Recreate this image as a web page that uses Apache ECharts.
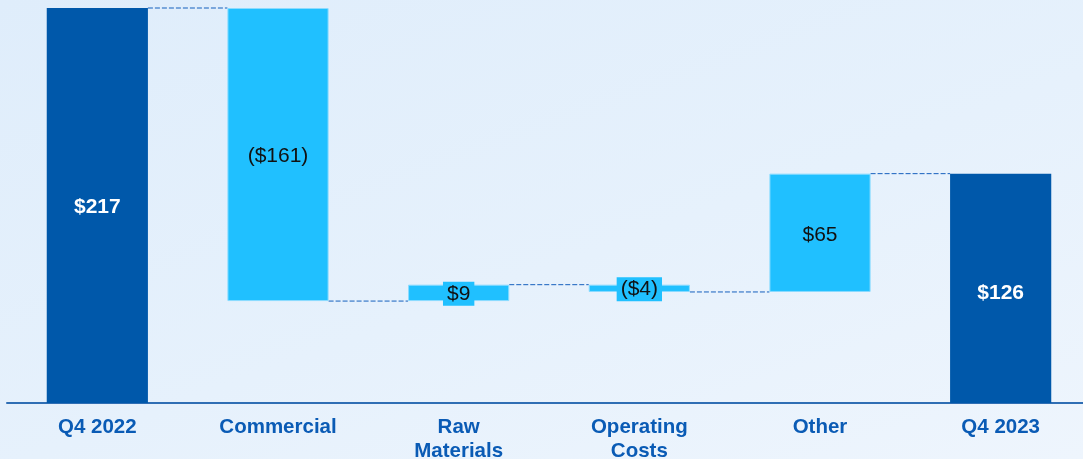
<!DOCTYPE html>
<html>
<head>
<meta charset="utf-8">
<script src="https://cdn.jsdelivr.net/npm/echarts@6/dist/echarts.min.js"></script>
<style>
  html, body { margin: 0; padding: 0; }
  body {
    width: 1083px; height: 459px; overflow: hidden;
    background: linear-gradient(160deg, #DFEDFB 0%, #E6F1FC 55%, #EEF5FD 100%);
  }
  #chart { width: 1083px; height: 459px; }
</style>
</head>
<body>
<div id="chart"></div>
<script>
// EBITDA bridge, Q4 2022 -> Q4 2023 ($ millions)
const categories = ['Q4 2022', 'Commercial', 'Raw\nMaterials', 'Operating\nCosts', 'Other', 'Q4 2023'];
const amounts = [217, -161, 9, -4, 65, 126];
const isTotal = [true, false, false, false, false, true];

const DARK = '#0058AA';
const CYAN = '#20C0FF';
const AXIS_BLUE = '#0A5BB5';
const FONT = 'Liberation Sans, Arial, sans-serif';

// Floating bars: an invisible base plus the visible step
const base = [];
const height = [];
const levels = []; // running level after each bar, used by the connectors
let running = 0;
amounts.forEach((v, i) => {
  if (isTotal[i]) {
    base.push(0);
    height.push(v);
    running = v;
  } else {
    const next = running + v;
    base.push(Math.min(running, next));
    height.push(Math.abs(v));
    running = next;
  }
  levels.push(running);
});

function fmt(v) {
  return v < 0 ? '($' + Math.abs(v) + ')' : '$' + v;
}

const visibleData = height.map((h, i) => {
  const small = !isTotal[i] && Math.abs(amounts[i]) < 20;
  let label;
  if (isTotal[i]) {
    label = { color: '#FFFFFF', fontWeight: 'bold', offset: [0, i === 0 ? 2 : 5] };
  } else if (small) {
    label = { color: '#111111', backgroundColor: CYAN, padding: [2, 4, 1, 4], offset: [0, 1] };
  } else {
    label = { color: '#111111', offset: [0, 2] };
  }
  return {
    value: h,
    itemStyle: isTotal[i]
      ? { color: DARK }
      : { color: CYAN, borderColor: '#8ADBFF', borderWidth: 1 },
    label: label
  };
});

const BAR_RATIO = 0.56;

const chart = echarts.init(document.getElementById('chart'), null, { renderer: 'canvas' });
chart.setOption({
  backgroundColor: 'transparent',
  animation: false,
  grid: {
    left: 7, right: -8, top: 8, bottom: 56,
    containLabel: false,
    outerBoundsMode: 'none'
  },
  xAxis: {
    type: 'category',
    data: categories,
    axisTick: { show: false },
    axisLine: { lineStyle: { color: '#2F6EB4', width: 2 } },
    axisLabel: {
      color: AXIS_BLUE,
      fontFamily: FONT,
      fontWeight: 'bold',
      fontSize: 20.5,
      lineHeight: 24,
      margin: 12,
      interval: 0
    }
  },
  yAxis: {
    type: 'value', min: 0, max: 217, show: false,
    splitLine: { show: false }
  },
  series: [
    {
      type: 'bar', stack: 'w', data: base, barWidth: (BAR_RATIO * 100) + '%',
      itemStyle: { color: 'transparent' }, silent: true
    },
    {
      type: 'bar', stack: 'w', data: visibleData, barWidth: (BAR_RATIO * 100) + '%',
      label: {
        show: true, position: 'inside',
        fontFamily: FONT,
        fontSize: 21,
        formatter: p => fmt(amounts[p.dataIndex])
      }
    },
    {
      // dashed connectors between neighbouring bars
      type: 'custom',
      silent: true,
      z: 1,
      data: levels.slice(0, -1).map((lv, i) => [i, lv]),
      renderItem: function (params, api) {
        const i = api.value(0);
        const lv = api.value(1);
        const p0 = api.coord([i, lv]);
        const p1 = api.coord([i + 1, lv]);
        const half = api.size([1, 0])[0] * BAR_RATIO / 2;
        return {
          type: 'line',
          shape: { x1: p0[0] + half, y1: p0[1], x2: p1[0] - half, y2: p1[1] },
          style: { stroke: '#1560BD', lineWidth: 1, lineDash: [5, 2] }
        };
      }
    }
  ]
});
</script>
</body>
</html>
